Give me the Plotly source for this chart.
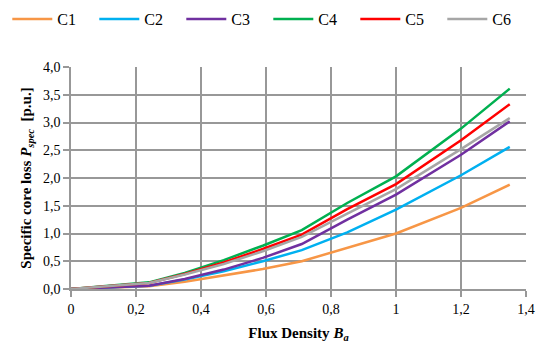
import plotly.graph_objects as go

flux = [0, 0.24, 0.35, 0.47, 0.59, 0.71, 0.85, 1.0, 1.2, 1.35]
c1 = [0, 0.05, 0.13, 0.24, 0.36, 0.50, 0.74, 1.00, 1.46, 1.88]
c2 = [0, 0.06, 0.17, 0.32, 0.50, 0.70, 1.02, 1.43, 2.05, 2.56]
c3 = [0, 0.06, 0.18, 0.35, 0.56, 0.81, 1.25, 1.70, 2.42, 3.02]
c4 = [0, 0.12, 0.29, 0.52, 0.78, 1.06, 1.55, 2.03, 2.89, 3.61]
c5 = [0, 0.11, 0.27, 0.48, 0.72, 0.98, 1.44, 1.89, 2.68, 3.33]
c6 = [0, 0.11, 0.26, 0.45, 0.68, 0.94, 1.36, 1.80, 2.52, 3.08]

names = ["C1", "C2", "C3", "C4", "C5", "C6"]
series = [c1, c2, c3, c4, c5, c6]
colors = ["#F79646", "#00B0F0", "#7030A0", "#00B050", "#FF0000", "#A6A6A6"]

fig = go.Figure()
for n, s, c in zip(names, series, colors):
    fig.add_trace(go.Scatter(x=flux, y=s, mode="lines", name=n,
                             line=dict(color=c, width=2.5)))

font = "Liberation Serif"
fig.update_layout(
    width=547, height=350,
    margin=dict(l=71, r=21, t=67, b=61, autoexpand=False),
    paper_bgcolor="white", plot_bgcolor="white",
    separators=", ",
    font=dict(family=font, size=14, color="black"),
    legend=dict(orientation="h", x=-0.14, y=1.216, xanchor="left", yanchor="middle",
                entrywidth=32, entrywidthmode="pixels",
                font=dict(family=font, size=16, color="black"),
                itemwidth=40, tracegroupgap=0),
    xaxis=dict(range=[0, 1.4], dtick=0.2, tick0=0,
               showgrid=True, gridcolor="#989898", gridwidth=1.5,
               showline=True, linecolor="#989898", linewidth=1.5,
               ticks="outside", ticklen=6, tickcolor="#989898", tickwidth=1.5,
               zeroline=False,
               tickfont=dict(family=font, size=14),
               title=dict(text="<b>Flux Density <i>B<sub>a</sub></i></b>",
                          font=dict(family=font, size=15), standoff=12)),
    yaxis=dict(range=[0, 4.0], dtick=0.5, tick0=0, tickformat=".1f",
               showgrid=True, gridcolor="#989898", gridwidth=1.5,
               showline=True, linecolor="#989898", linewidth=1.5,
               ticks="outside", ticklen=6, tickcolor="#989898", tickwidth=1.5,
               zeroline=False,
               tickfont=dict(family=font, size=14),
               title=dict(text="<b>Specific core loss <i>P<sub>spec</sub></i>  [p.u.]</b>",
                          font=dict(family=font, size=15), standoff=8)),
)

fig.write_html("out.html")
